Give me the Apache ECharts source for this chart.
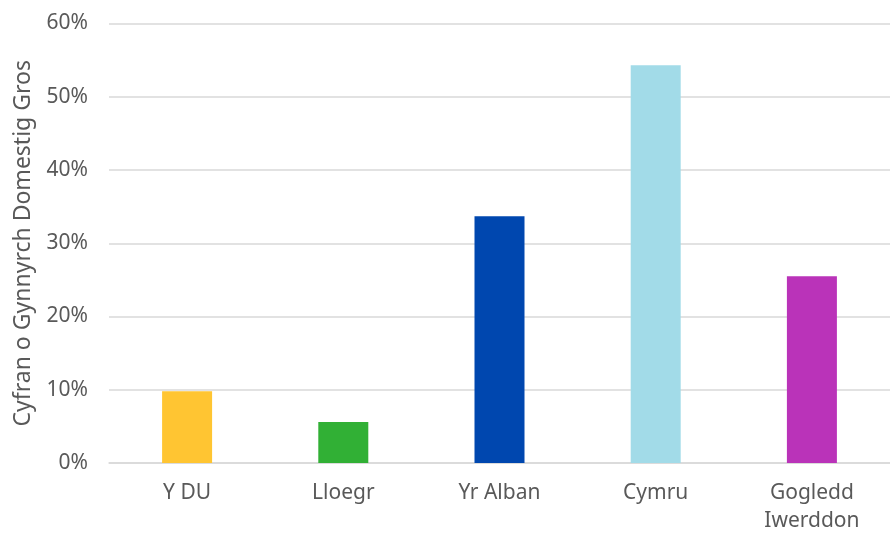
<!DOCTYPE html>
<html>
<head>
<meta charset="utf-8">
<script src="https://cdn.jsdelivr.net/npm/echarts@6/dist/echarts.min.js"></script>
<style>
  html, body { margin: 0; padding: 0; background: #fff; }
  #chart { width: 890px; height: 535px; }
</style>
</head>
<body>
<div id="chart"></div>
<script>
const categories = ['Y DU', 'Lloegr', 'Yr Alban', 'Cymru', 'Gogledd\nIwerddon']
const shares = [9.8, 5.6, 33.7, 54.3, 25.5]
const barColors = ['#ffc532', '#31b035', '#0047af', '#a2dbe8', '#ba33b9']
const yTicks = [0, 10, 20, 30, 40, 50, 60]
const yAxisTitle = 'Cyfran o Gynnyrch Domestig Gros'

const textColor = '#595959'
const font = 'Noto Sans'

const chart = echarts.init(document.getElementById('chart'))

chart.setOption({
  animation: false,
  grid: { left: 109, width: 795, top: 23.5, bottom: 67.5, containLabel: false },
  xAxis: {
    type: 'category',
    data: categories,
    axisLine: { lineStyle: { color: '#d9d9d9', width: 1.5 } },
    axisTick: { show: false },
    axisLabel: {
      color: textColor,
      fontFamily: font,
      fontSize: 21,
      lineHeight: 28,
      margin: 16
    }
  },
  yAxis: {
    type: 'value',
    min: yTicks[0],
    max: yTicks[yTicks.length - 1],
    interval: 10,
    name: yAxisTitle,
    nameLocation: 'middle',
    nameGap: 74,
    nameTextStyle: { color: textColor, fontFamily: font, fontSize: 23 },
    axisLine: { show: false },
    axisTick: { show: false },
    axisLabel: {
      color: textColor,
      fontFamily: font,
      fontSize: 21,
      margin: 21,
      formatter: (v) => v + '%'
    },
    splitLine: { lineStyle: { color: '#d9d9d9', width: 1.5 } }
  },
  series: [{
    type: 'bar',
    barWidth: 50,
    data: shares.map((v, i) => ({ value: v, itemStyle: { color: barColors[i] } }))
  }]
})
</script>
</body>
</html>
